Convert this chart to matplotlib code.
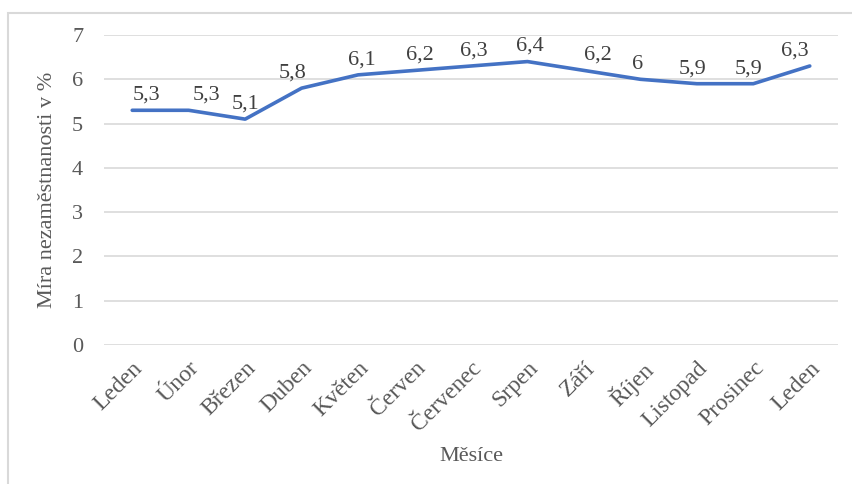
import matplotlib
matplotlib.use("Agg")
import matplotlib.pyplot as plt
from matplotlib.patches import Rectangle

# data
months = ['Leden', 'Únor', 'Březen', 'Duben', 'Květen', 'Červen', 'Červenec',
          'Srpen', 'Září', 'Říjen', 'Listopad', 'Prosinec', 'Leden']
rate = [5.3, 5.3, 5.1, 5.8, 6.1, 6.2, 6.3, 6.4, 6.2, 6.0, 5.9, 5.9, 6.3]
rate_labels = ['5,3', '5,3', '5,1', '5,8', '6,1', '6,2', '6,3',
               '6,4', '6,2', '6', '5,9', '5,9', '6,3']
yticks = [0, 1, 2, 3, 4, 5, 6, 7]

# label nudges (px), like excel places them
label_dx = [14, 18, 0, -9, 4, 5, 3, 2, 14, -3, -4, -5, -15]

plt.rcParams['font.family'] = ['Liberation Serif', 'DejaVu Serif']
txt = '#595959'
fs = 16

fig = plt.figure(figsize=(8.53, 4.84), dpi=100)
ax = fig.add_axes([104/853, 1 - 345/484, (838 - 104)/853, (345 - 35)/484])

# chart border
fig.patches.append(Rectangle((8/853, -0.1), 1.2, 1 - 13/484 + 0.1,
                             transform=fig.transFigure, fill=False,
                             edgecolor='#D9D9D9', linewidth=1.5))

x = list(range(len(months)))
ax.plot(x, rate, color='#4472C4', linewidth=2.6, solid_capstyle='round',
        solid_joinstyle='round', clip_on=False, zorder=3)

for i, (v, lab) in enumerate(zip(rate, rate_labels)):
    ax.annotate(lab, (i, v), xytext=(label_dx[i] * 0.72, 4),
                textcoords='offset points', ha='center', va='bottom',
                fontsize=fs, color='#404040')

ax.set_xlim(-0.5, len(months) - 0.5)
ax.set_ylim(0, 7)
ax.set_yticks(yticks)
ax.set_xticks(x)
ax.set_xticklabels(months, rotation=45, ha='right', rotation_mode='anchor')
ax.tick_params(axis='both', length=0, labelsize=fs, colors=txt)
ax.tick_params(axis='x', labelsize=17, pad=9)
ax.tick_params(axis='y', pad=15)
ax.grid(axis='y', color='#D9D9D9', linewidth=1.2)
ax.set_axisbelow(True)
for s in ax.spines.values():
    s.set_visible(False)

ax.set_ylabel('Míra nezaměstnanosti v %', fontsize=fs, color=txt, labelpad=11)
ax.set_xlabel('Měsíce', fontsize=fs, color=txt, labelpad=8)

fig.savefig('out.png', dpi=100)
